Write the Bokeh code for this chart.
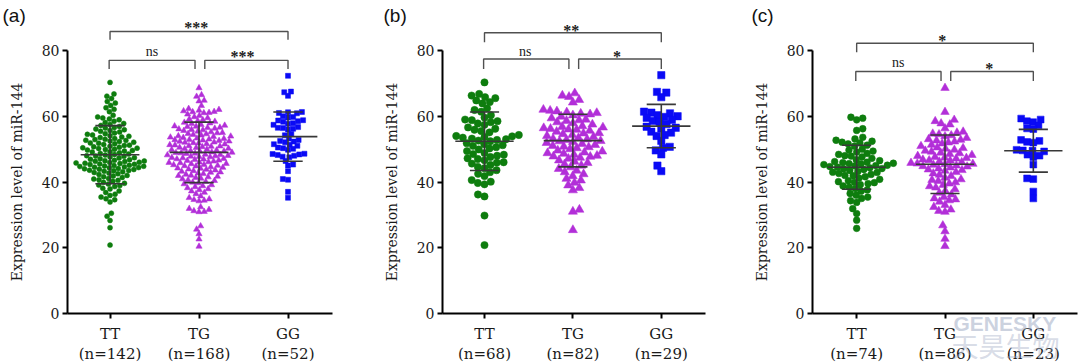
import numpy as np
from bokeh.plotting import figure
from bokeh.layouts import row
from bokeh.models import FixedTicker, Label, Range1d
from bokeh.core.properties import value
from bokeh.embed import file_html
from bokeh.resources import INLINE

genotypes = ["TT", "TG", "GG"]

# ---------------- panel (a) ----------------
a_n = [142, 168, 52]
a_TT = [20.8, 26.1, 28.3, 29.6, 30.5, 33.9, 34.6, 34.9, 35.4, 35.9,
        36.3, 36.8, 37.3, 37.9, 38.1, 38.6, 38.9, 39.1, 39.4, 39.6,
        39.9, 40.2, 40.5, 40.7, 40.9, 41.1, 41.4, 41.6, 41.8, 42.0,
        42.3, 42.5, 42.7, 42.9, 43.1, 43.3, 43.4, 43.5, 43.6, 43.8,
        43.9, 44.0, 44.1, 44.3, 44.4, 44.5, 44.6, 44.7, 44.8, 44.9,
        45.0, 45.1, 45.3, 45.4, 45.5, 45.6, 45.7, 45.8, 45.9, 46.0,
        46.2, 46.3, 46.4, 46.5, 46.6, 46.8, 46.9, 47.1, 47.3, 47.4,
        47.6, 47.8, 47.9, 48.0, 48.2, 48.4, 48.5, 48.7, 48.9, 49.1,
        49.2, 49.4, 49.6, 49.7, 49.9, 50.0, 50.2, 50.3, 50.4, 50.6,
        50.7, 50.9, 51.1, 51.2, 51.4, 51.6, 51.8, 51.9, 52.1, 52.3,
        52.5, 52.6, 52.7, 52.9, 53.0, 53.2, 53.5, 53.7, 53.9, 54.1,
        54.3, 54.5, 54.7, 54.9, 55.2, 55.4, 55.7, 55.9, 56.1, 56.4,
        56.6, 56.9, 57.2, 57.5, 57.8, 58.1, 58.5, 58.9, 59.2, 59.5,
        59.8, 60.3, 61.4, 62.1, 62.6, 63.3, 64.0, 64.5, 65.4, 66.1,
        66.8, 70.3]
a_TG = [20.4, 22.6, 24.2, 25.6, 26.6, 30.9, 31.0, 31.2, 31.6, 31.9,
        32.4, 34.2, 34.4, 34.6, 34.8, 35.2, 35.7, 36.4, 36.8, 37.2,
        37.6, 37.9, 38.2, 38.5, 38.8, 39.1, 39.4, 39.7, 39.9, 40.1,
        40.4, 40.6, 40.9, 41.1, 41.3, 41.5, 41.7, 41.9, 42.0, 42.3,
        42.5, 42.7, 42.9, 43.0, 43.2, 43.4, 43.6, 43.8, 43.9, 44.1,
        44.2, 44.4, 44.6, 44.8, 44.9, 45.0, 45.2, 45.3, 45.5, 45.6,
        45.8, 45.9, 46.0, 46.1, 46.3, 46.5, 46.6, 46.8, 46.9, 47.0,
        47.1, 47.3, 47.4, 47.6, 47.7, 47.8, 47.9, 48.0, 48.2, 48.3,
        48.4, 48.6, 48.7, 48.8, 48.9, 49.0, 49.1, 49.3, 49.4, 49.5,
        49.7, 49.8, 49.9, 50.1, 50.2, 50.4, 50.5, 50.7, 50.8, 50.9,
        51.0, 51.2, 51.3, 51.5, 51.6, 51.8, 51.9, 52.0, 52.1, 52.3,
        52.4, 52.6, 52.7, 52.8, 52.9, 53.0, 53.2, 53.3, 53.5, 53.6,
        53.8, 53.9, 54.0, 54.2, 54.4, 54.6, 54.7, 54.9, 55.0, 55.2,
        55.4, 55.6, 55.8, 55.9, 56.1, 56.3, 56.5, 56.6, 56.8, 56.9,
        57.0, 57.2, 57.4, 57.7, 57.9, 58.1, 58.4, 58.6, 58.9, 59.1,
        59.5, 59.8, 60.2, 60.6, 61.0, 61.1, 61.3, 61.4, 61.6, 61.8,
        62.0, 62.3, 63.2, 64.6, 64.8, 66.0, 66.5, 68.6]
a_GG = [72.3, 67.5, 67.3, 66.2, 61.3, 61.2, 61.0, 60.9, 60.0, 59.8,
        59.6, 58.8, 58.7, 58.5, 58.3, 57.9, 57.7, 57.4, 56.7, 56.5,
        56.4, 56.2, 56.0, 54.6, 54.2, 53.2, 52.8, 52.5, 52.3, 52.1,
        51.5, 51.3, 51.0, 50.5, 50.3, 50.1, 49.8, 48.6, 48.5, 48.4,
        48.2, 48.0, 47.7, 47.5, 46.4, 45.3, 45.0, 43.3, 40.9, 40.7,
        37.0, 35.2]
a_mean = [48.3, 49.0, 53.8]
a_sd = [8.85, 9.2, 7.5]
a_sig = ["***", "ns", "***"]   # TT-GG, TT-TG, TG-GG

# ---------------- panel (b) ----------------
b_n = [68, 82, 29]
b_TT = [70.3, 66.8, 66.3, 65.8, 65.5, 64.8, 64.3, 63.9, 62.4, 61.9,
        61.4, 60.3, 59.6, 59.0, 58.8, 58.5, 58.2, 57.8, 57.4, 56.6,
        56.2, 55.9, 55.5, 55.1, 54.3, 54.0, 53.9, 53.7, 53.5, 53.2,
        53.0, 52.8, 52.6, 52.4, 51.8, 51.5, 51.2, 51.0, 50.6, 50.2,
        49.9, 49.4, 48.8, 48.5, 48.3, 48.0, 47.6, 47.2, 47.0, 46.6,
        46.0, 45.9, 45.6, 45.2, 44.6, 44.2, 43.6, 43.0, 42.5, 41.8,
        40.6, 40.1, 39.7, 39.3, 36.2, 35.6, 29.8, 20.8]
b_TG = [67.0, 66.3, 65.9, 65.0, 64.2, 62.0, 61.7, 61.5, 61.2, 61.0,
        60.8, 60.6, 60.3, 59.9, 59.4, 59.0, 58.8, 58.6, 58.2, 57.9,
        57.5, 57.0, 56.8, 56.6, 56.4, 56.2, 56.0, 55.9, 55.6, 55.3,
        54.9, 54.8, 54.6, 54.3, 54.0, 53.7, 53.4, 53.1, 53.0, 52.8,
        52.5, 52.4, 52.2, 51.9, 51.6, 51.3, 51.0, 50.8, 50.6, 50.3,
        50.0, 49.6, 49.3, 49.0, 48.8, 48.6, 48.3, 48.0, 47.8, 47.7,
        47.4, 47.1, 46.6, 46.2, 45.8, 45.4, 45.0, 44.5, 44.0, 43.5,
        43.0, 42.4, 41.8, 41.0, 40.5, 39.8, 39.0, 38.2, 37.5, 31.6,
        31.0, 25.4]
b_GG = [72.5, 67.4, 67.2, 65.8, 61.4, 61.1, 60.9, 60.3, 60.0, 59.8,
        59.5, 58.9, 58.6, 58.3, 57.6, 56.8, 56.5, 56.3, 55.3, 55.0,
        54.3, 54.0, 52.5, 50.7, 50.4, 49.6, 48.4, 45.0, 43.3]
b_mean = [52.4, 52.6, 57.0]
b_sd = [8.9, 8.0, 6.6]
b_sig = ["**", "ns", "*"]

# ---------------- panel (c) ----------------
c_n = [74, 86, 23]
c_TT = [59.7, 59.4, 58.9, 56.2, 55.7, 53.6, 53.1, 52.7, 52.4, 52.1,
        51.9, 51.6, 51.2, 50.9, 50.0, 49.7, 49.4, 49.1, 48.7, 48.4,
        48.0, 47.9, 47.6, 47.2, 46.8, 46.5, 46.2, 46.0, 45.9, 45.7,
        45.6, 45.5, 45.3, 45.1, 45.0, 44.9, 44.7, 44.5, 44.3, 44.1,
        44.0, 43.8, 43.5, 43.2, 43.0, 42.9, 42.6, 42.3, 42.0, 41.9,
        41.6, 41.2, 40.8, 40.4, 40.1, 39.9, 39.8, 39.5, 39.2, 38.8,
        38.4, 38.0, 37.6, 37.2, 36.5, 36.0, 35.4, 35.0, 34.3, 33.8,
        31.9, 30.4, 28.4, 25.9]
c_TG = [68.6, 61.3, 58.9, 58.5, 57.8, 57.5, 56.3, 55.3, 55.0, 54.7,
        54.5, 54.2, 53.9, 53.4, 53.0, 52.8, 52.6, 52.3, 52.0, 51.7,
        51.3, 50.9, 50.5, 50.3, 50.1, 49.8, 49.5, 49.2, 48.9, 48.7,
        48.5, 48.2, 47.9, 47.6, 47.4, 47.3, 47.1, 46.8, 46.6, 46.5,
        46.2, 46.0, 45.8, 45.6, 45.5, 45.4, 45.2, 45.0, 44.8, 44.7,
        44.4, 44.1, 43.8, 43.6, 43.4, 43.0, 42.6, 42.2, 41.8, 41.3,
        40.8, 40.6, 40.3, 39.9, 39.5, 39.1, 38.7, 38.3, 37.8, 37.3,
        36.7, 36.2, 35.4, 35.0, 34.7, 34.4, 34.0, 33.0, 32.4, 31.6,
        31.2, 30.9, 26.8, 25.0, 22.7, 20.5]
c_GG = [59.3, 59.0, 58.5, 58.2, 57.2, 56.3, 56.1, 52.8, 52.5, 52.2,
        52.0, 49.8, 49.6, 49.5, 49.3, 48.3, 48.0, 47.6, 45.3, 41.1,
        40.9, 37.1, 35.0]
c_mean = [44.5, 45.4, 49.5]
c_sd = [6.7, 8.9, 6.5]
c_sig = ["*", "ns", "*"]

y_ticks = [0, 20, 40, 60, 80]
y_label = "Expression level of miR-144"

# ---------------- styling / geometry ----------------
COLORS = ["#0e7d0e", "#b22fd8", "#0a0af5"]
MARKERS = ["circle", "triangle", "square"]
SERIF = "DejaVu Serif"
SIGFONT = "Liberation Serif"
FIG_H = 363
Y80_PX, Y0_PX = 50, 313          # pixel rows of y=80 and y=0
PX_PER_Y = (Y0_PX - Y80_PX) / 80.0
Y_START = -(FIG_H - Y0_PX) / PX_PER_Y
Y_END = 80 + Y80_PX / PX_PER_Y


def swarm(vals, d, px_per_x):
    """Greedy beeswarm layout: returns x offsets (data units)."""
    ys = np.asarray(vals, dtype=float) * PX_PER_Y
    order = np.argsort(ys, kind="stable")
    px_, py_ = [], []
    xs = np.zeros(len(ys))
    for k, i in enumerate(order):
        y = ys[i]
        near = [(a, b) for a, b in zip(px_, py_) if abs(b - y) < d]
        cands = [0.0]
        for a, b in near:
            dx = np.sqrt(d * d - (b - y) ** 2)
            cands += [a + dx, a - dx]
        cands.sort(key=lambda c: (round(abs(c), 6), c if k % 2 else -c))
        chosen = 0.0
        for c in cands:
            if all((c - a) ** 2 + (y - b) ** 2 >= d * d - 1e-6 for a, b in near):
                chosen = c
                break
        xs[i] = chosen
        px_.append(chosen)
        py_.append(y)
    return xs / px_per_x


def panel(letter, groups, ns, means, sds, sig, width, ax_left, ax_right, xr,
          msize, spacing, brk, sigx, letter_x):
    x0, x1 = xr
    ppx = (ax_right - ax_left) / (x1 - x0)
    xs0 = x0 - ax_left / ppx
    xs1 = x1 + (width - ax_right) / ppx
    p = figure(width=width, height=FIG_H, x_range=Range1d(xs0, xs1),
               y_range=Range1d(Y_START, Y_END), output_backend="svg",
               toolbar_location=None, title=None, min_border=0,
               min_border_left=0, min_border_right=0,
               min_border_top=0, min_border_bottom=0)
    p.outline_line_color = None
    p.xgrid.visible = False
    p.ygrid.visible = False
    p.background_fill_color = "white"
    p.border_fill_color = "white"

    for gi, vals in enumerate(groups):
        size = msize * (1.25 if MARKERS[gi] == "triangle" else 1.0)
        offs = swarm(vals, spacing, ppx)
        p.scatter(x=gi + offs, y=vals, marker=MARKERS[gi], size=size,
                  fill_color=COLORS[gi], line_color=COLORS[gi], line_width=0.5)

    lc = "#383838"
    for gi in range(3):
        m, s = means[gi], sds[gi]
        p.segment(x0=[gi - 0.33], x1=[gi + 0.33], y0=[m], y1=[m], line_color=lc, line_width=1.6)
        p.segment(x0=[gi], x1=[gi], y0=[m - s], y1=[m + s], line_color=lc, line_width=1.6)
        p.segment(x0=[gi - 0.165, gi - 0.165], x1=[gi + 0.165, gi + 0.165],
                  y0=[m - s, m + s], y1=[m - s, m + s], line_color=lc, line_width=1.6)

    # significance brackets
    top, tip, low, ltip, st_top, ns_y, st_low = brk
    bc = "#505050"
    p.line([0, 0, 2, 2], [tip, top, top, tip], line_color=bc, line_width=1.4)
    p.line([-0.01, -0.01, 0.955, 0.955], [ltip, low, low, ltip], line_color=bc, line_width=1.4)
    p.line([1.065, 1.065, 2, 2], [ltip, low, low, ltip], line_color=bc, line_width=1.4)
    p.text(x=[sigx[0]], y=[st_top], text=[sig[0]], text_font=value(SIGFONT),
           text_font_size="16px", text_font_style="bold",
           text_align="center", text_baseline="alphabetic", text_color="#222222")
    p.text(x=[sigx[1]], y=[ns_y], text=[sig[1]], text_font=value(SIGFONT), text_font_size="14px",
           text_align="center", text_baseline="alphabetic", text_color="#222222")
    p.text(x=[sigx[2]], y=[st_low], text=[sig[2]], text_font=value(SIGFONT),
           text_font_size="16px", text_font_style="bold",
           text_align="center", text_baseline="alphabetic", text_color="#222222")

    # axes (fixed in place, inside a frame that fills the canvas)
    xa = p.xaxis[0]
    xa.fixed_location = 0
    xa.bounds = (x0, x1)
    xa.ticker = FixedTicker(ticks=[0, 1, 2])
    xa.major_label_overrides = {i: f"{genotypes[i]}\n(n={ns[i]})" for i in range(3)}
    ya = p.yaxis[0]
    ya.fixed_location = x0
    ya.ticker = FixedTicker(ticks=y_ticks)
    ya.bounds = (0, 80)
    ya.axis_label = y_label
    for ax in (xa, ya):
        ax.axis_line_width = 2
        ax.axis_line_color = "black"
        ax.major_tick_line_width = 2
        ax.major_tick_line_color = "black"
        ax.major_tick_out = 5
        ax.major_tick_in = 0
        ax.minor_tick_out = 0
        ax.minor_tick_in = 0
        ax.major_label_text_font = SERIF
        ax.major_label_text_color = "#1a1a1a"
    xa.major_label_text_font_size = "15px"
    xa.major_label_text_line_height = 1.12
    xa.major_label_standoff = 6
    ya.major_label_text_font_size = "14px"
    ya.major_label_standoff = 3
    ya.axis_label_text_font = SERIF
    ya.axis_label_text_font_size = "14px"
    ya.axis_label_text_font_style = "normal"
    ya.axis_label_text_color = "#1a1a1a"
    ya.axis_label_standoff = 14

    p.add_layout(Label(x=letter_x, y=FIG_H - 4, x_units="screen", y_units="screen",
                       text=f"({letter})", text_font="Liberation Sans",
                       text_font_size="19px", text_align="left", text_baseline="top",
                       text_color="#111111"))
    return p


pa = panel("a", [a_TT, a_TG, a_GG], a_n, a_mean, a_sd, a_sig,
           375, 67, 332, (-0.478, 2.5), 5.0, 5.2,
           (85.8, 83.3, 77.0, 74.4, 87.0, 79.6, 78.2), (0.97, 0.47, 1.49), 2)
pb = panel("b", [b_TT, b_TG, b_GG], b_n, b_mean, b_sd, b_sig,
           370, 67, 330, (-0.475, 2.5), 7.3, 6.8,
           (85.4, 82.5, 77.4, 74.4, 86.1, 79.7, 78.3), (0.98, 0.46, 1.5), 8)
pc = panel("c", [c_TT, c_TG, c_GG], c_n, c_mean, c_sd, c_sig,
           335, 67, 332, (-0.5, 2.5), 6.8, 6.3,
           (82.2, 79.5, 73.6, 70.7, 83.0, 76.2, 74.4), (0.97, 0.47, 1.5), 6)

# watermark of the source image
pc.add_layout(Label(x=208, y=52, x_units="screen", y_units="screen", text="GENESKY",
                    text_font="Liberation Sans", text_font_style="bold", text_font_size="21px",
                    text_align="left", text_baseline="top", text_color="#9aa6bf", text_alpha=0.5))
pc.add_layout(Label(x=206, y=38, x_units="screen", y_units="screen", text="天昊生物",
                    text_font="Noto Sans CJK SC", text_font_size="27px",
                    text_align="left", text_baseline="top", text_color="#9aa6bf", text_alpha=0.4))

layout = row(pa, pb, pc)
open("out.html", "w").write(file_html(layout, INLINE))
